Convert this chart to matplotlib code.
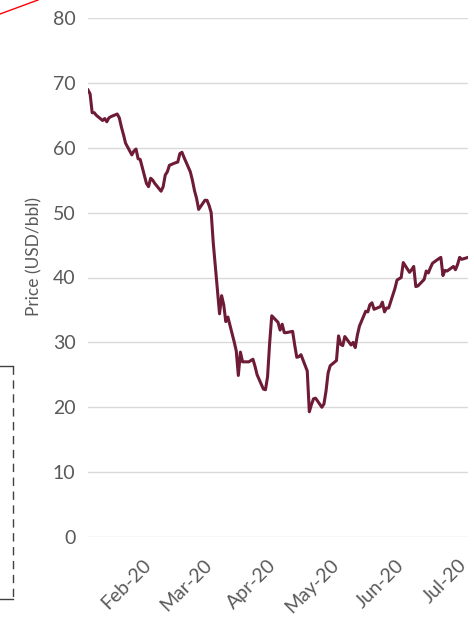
import matplotlib.pyplot as plt
import matplotlib.dates as mdates
import pandas as pd
from matplotlib.lines import Line2D

plt.rcParams['font.family'] = ['Lato', 'DejaVu Sans']

# daily prices, business days from 6 Jan 2020 to 6 Jul 2020
dates = pd.bdate_range('2020-01-06', '2020-07-06')
prices = [
    # Jan
    68.9, 68.3, 65.4, 65.4, 65.0,
    64.2, 64.5, 64.0, 64.6, 64.8,
    65.2, 64.6, 63.2, 62.0, 60.7,
    58.9, 59.5, 59.8, 58.3, 58.2,
    # Feb
    54.5, 54.0, 55.3, 55.0, 54.5,
    53.3, 54.0, 55.8, 56.3, 57.3,
    57.7, 57.8, 59.1, 59.3, 58.5,
    56.3, 55.0, 53.4, 52.2, 50.5,
    # Mar
    51.9, 51.9, 51.1, 50.0, 45.3,
    34.4, 37.2, 35.8, 33.2, 33.9,
    30.1, 28.7, 24.9, 28.5, 27.0,
    27.0, 27.2, 27.4, 26.3, 25.0,
    22.8, 22.7,
    # Apr
    24.7, 29.9, 34.1,
    33.1, 31.9, 32.8, 31.5, 31.5,
    31.7, 29.6, 27.7, 27.8, 28.1,
    25.6, 19.3, 20.4, 21.3, 21.4,
    20.0, 20.5, 22.5, 25.3,
    # May
    26.4,
    27.2, 31.0, 29.7, 29.5, 30.9,
    29.6, 30.0, 29.2, 31.1, 32.5,
    34.8, 34.7, 35.8, 36.1, 35.1,
    35.5, 36.2, 34.7, 35.3, 35.3,
    # Jun
    38.3, 39.6, 39.8, 40.0, 42.3,
    40.8, 41.2, 41.7, 38.6, 38.7,
    39.7, 41.0, 40.7, 41.5, 42.2,
    42.9, 43.1, 40.3, 41.1, 41.0,
    41.7, 41.2,
    # Jul
    42.0, 43.1, 42.8,
    43.1,
]
month_ticks = pd.date_range('2020-02-01', '2020-07-01', freq='MS')
y_ticks = [0, 10, 20, 30, 40, 50, 60, 70, 80]

grey = '#595959'
line_col = '#6e1b36'

fig = plt.figure(figsize=(4.74, 6.19), dpi=100)
ax = fig.add_axes([88 / 474, 1 - 537 / 619, 380 / 474, 519 / 619])

ax.plot(dates, prices, color=line_col, lw=2.2, solid_joinstyle='round')

ax.set_xlim(pd.Timestamp('2020-01-06'), pd.Timestamp('2020-07-06'))
ax.set_ylim(0, 80)
ax.set_yticks(y_ticks)
ax.set_xticks(month_ticks)
ax.xaxis.set_major_formatter(mdates.DateFormatter('%b-%y'))
ax.grid(axis='y', color='#d9d9d9', lw=1.0)
ax.set_axisbelow(True)
for s in ax.spines.values():
    s.set_visible(False)
ax.tick_params(axis='both', length=0, colors=grey, labelsize=14)
ax.tick_params(axis='y', pad=9)
ax.tick_params(axis='x', pad=14)
for lab in ax.get_xticklabels():
    lab.set_rotation(45)
    lab.set_ha('right')
    lab.set_rotation_mode('anchor')
ax.set_ylabel('Price (USD/bbl)', color=grey, fontsize=12.5)
ax.yaxis.set_label_coords(-46 / 380, 0.54)

# leftover marks from the page the chart was cut from
fig.add_artist(Line2D([0, 38 / 474], [1 - 14 / 619, 1.0], color='red', lw=1.0))
fig.add_artist(Line2D([0, 13 / 474], [1 - 366 / 619] * 2, color='#404040', lw=1.0))
fig.add_artist(Line2D([0, 13 / 474], [1 - 599 / 619] * 2, color='#404040', lw=1.0))
fig.add_artist(Line2D([13 / 474] * 2, [1 - 366 / 619, 1 - 599 / 619],
                      color='#404040', lw=1.0, ls=(0, (6, 4))))

fig.savefig('out.png', dpi=100, facecolor='white')
